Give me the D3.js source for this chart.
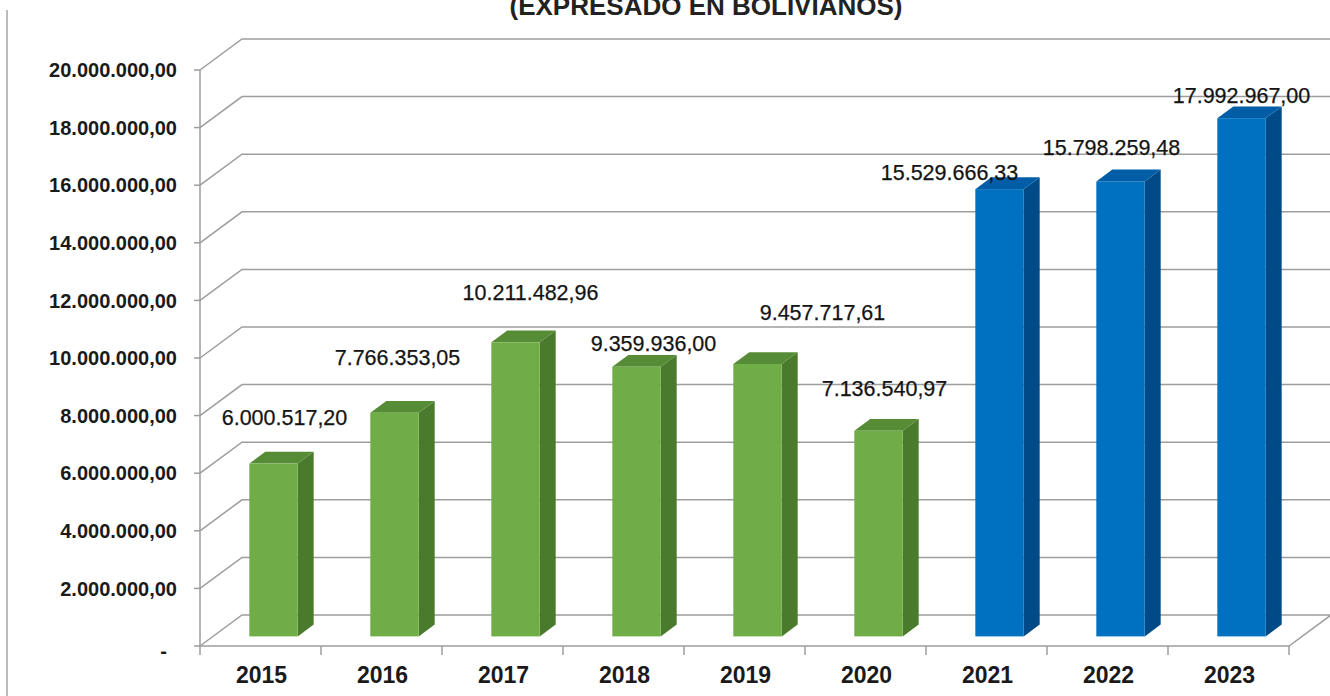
<!DOCTYPE html>
<html>
<head>
<meta charset="utf-8">
<script src="https://cdn.jsdelivr.net/npm/d3@7"></script>
<style>
  html, body { margin: 0; padding: 0; background: #fff; }
  svg { display: block; font-family: "Liberation Sans", Arial, sans-serif; }
</style>
</head>
<body>
<svg id="chart" width="1330" height="696"></svg>
<script>
// ---------------- DATA ----------------
const years = ["2015", "2016", "2017", "2018", "2019", "2020", "2021", "2022", "2023"];
const amounts = [6000517.20, 7766353.05, 10211482.96, 9359936.00, 9457717.61, 7136540.97, 15529666.33, 15798259.48, 17992967.00];
const seriesGroup = ["g", "g", "g", "g", "g", "g", "b", "b", "b"];
const yTicks = [0, 2000000, 4000000, 6000000, 8000000, 10000000, 12000000, 14000000, 16000000, 18000000, 20000000];
const titleText = "(EXPRESADO EN BOLIVIANOS)";

// ---------------- LAYOUT / STYLE ----------------
const frontLeft = 200, frontRight = 1289;
const yBottom = 646, yTop = 70;
const depth = { dx: 42, dy: -31 };
const barFront = 0.31, barBack = 0.69;
// label nudges relative to top-front centre of each bar (px)
const labelNudge = [[11, -46], [3, -55], [15, -50], [17, -24], [65, -52], [6, -43], [-50, -17], [-9, -34], [0, -23]];
const palette = {
  g: { front: "#70AD47", top: "#578C37", side: "#4A7A2C" },
  b: { front: "#0070C0", top: "#005DA6", side: "#004B87" }
};
const gridColor = "#9d9d9d";

const svg = d3.select("#chart");
const loc = d3.formatLocale({ decimal: ",", thousands: ".", grouping: [3], currency: ["", ""] });
const fmt = loc.format(",.2f");

const y = d3.scaleLinear().domain([0, 20000000]).range([yBottom, yTop]);
const x = d3.scaleBand().domain(years).range([frontLeft, frontRight]).paddingInner(0.6).paddingOuter(0.3);
const xCat = d3.scaleBand().domain(years).range([frontLeft, frontRight]).padding(0);

// left border line
svg.append("line").attr("x1", 7).attr("x2", 7).attr("y1", 10).attr("y2", 696)
  .attr("stroke", "#a6a6a6").attr("stroke-width", 1.5);

// title
svg.append("text").attr("x", 706).attr("y", 15).attr("text-anchor", "middle")
  .attr("font-size", 26).attr("font-weight", "bold").attr("fill", "#222").text(titleText);

// gridlines (left wall diagonal + back wall horizontal)
const grid = svg.append("g").attr("stroke", gridColor).attr("stroke-width", 1.5).attr("fill", "none");
yTicks.forEach(v => {
  const yy = y(v);
  grid.append("path").attr("d",
    `M${frontLeft},${yy} L${frontLeft + depth.dx},${yy + depth.dy} L${frontRight + depth.dx + 2},${yy + depth.dy}`);
  grid.append("line").attr("x1", frontLeft - 6).attr("x2", frontLeft).attr("y1", yy).attr("y2", yy);
});
// floor front edge and right edge
grid.append("path").attr("d",
  `M${frontLeft},${y(0)} L${frontRight},${y(0)} L${frontRight + depth.dx},${y(0) + depth.dy}`);
// front vertical axis
grid.append("line").attr("x1", frontLeft).attr("x2", frontLeft).attr("y1", y(20000000)).attr("y2", y(0));
// x tick marks at category boundaries
const bounds = years.map(d => xCat(d)).concat([frontRight]);
bounds.forEach(bx => {
  grid.append("line").attr("x1", bx).attr("x2", bx).attr("y1", y(0)).attr("y2", y(0) + 9);
});

// y axis labels
svg.append("g").selectAll("text").data(yTicks).join("text")
  .attr("x", d => d === 0 ? 167 : 177)
  .attr("y", d => d === 0 ? y(d) + 5 : y(d))
  .attr("dy", "0.36em")
  .attr("text-anchor", "end")
  .attr("font-size", 20).attr("font-weight", "bold").attr("fill", "#1a1a1a")
  .text(d => d === 0 ? "-" : fmt(d));

// x axis labels
svg.append("g").selectAll("text").data(years).join("text")
  .attr("x", d => xCat(d) + xCat.bandwidth() / 2 + 1)
  .attr("y", 675).attr("dy", "0.36em")
  .attr("text-anchor", "middle")
  .attr("font-size", 23).attr("font-weight", "bold").attr("fill", "#1a1a1a")
  .text(d => d);

// bars
const bw = x.bandwidth();
const f1x = depth.dx * barFront, f1y = depth.dy * barFront;
const f2x = depth.dx * barBack, f2y = depth.dy * barBack;
const bars = svg.append("g");
years.forEach((yr, i) => {
  const c = palette[seriesGroup[i]];
  const x0 = x(yr) + f1x, x1 = x0 + bw;
  const yb = y(0) + f1y, yt = y(amounts[i]) + f1y;
  const ddx = f2x - f1x, ddy = f2y - f1y;
  const g = bars.append("g");
  g.append("path").attr("fill", c.side)
    .attr("d", `M${x1},${yb} L${x1 + ddx},${yb + ddy} L${x1 + ddx},${yt + ddy} L${x1},${yt} Z`);
  g.append("path").attr("fill", c.top)
    .attr("d", `M${x0},${yt} L${x0 + ddx},${yt + ddy} L${x1 + ddx},${yt + ddy} L${x1},${yt} Z`);
  g.append("rect").attr("x", x0).attr("y", yt).attr("width", bw).attr("height", yb - yt).attr("fill", c.front);
});

// value labels
svg.append("g").selectAll("text").data(amounts).join("text")
  .attr("x", (d, i) => x(years[i]) + f1x + bw / 2 + labelNudge[i][0])
  .attr("y", (d, i) => y(d) + f1y + labelNudge[i][1])
  .attr("dy", "0.36em")
  .attr("text-anchor", "middle")
  .attr("font-size", 21.5).attr("fill", "#141414")
  .attr("stroke", "#141414").attr("stroke-width", 0.25)
  .text(d => fmt(d));
</script>
</body>
</html>
